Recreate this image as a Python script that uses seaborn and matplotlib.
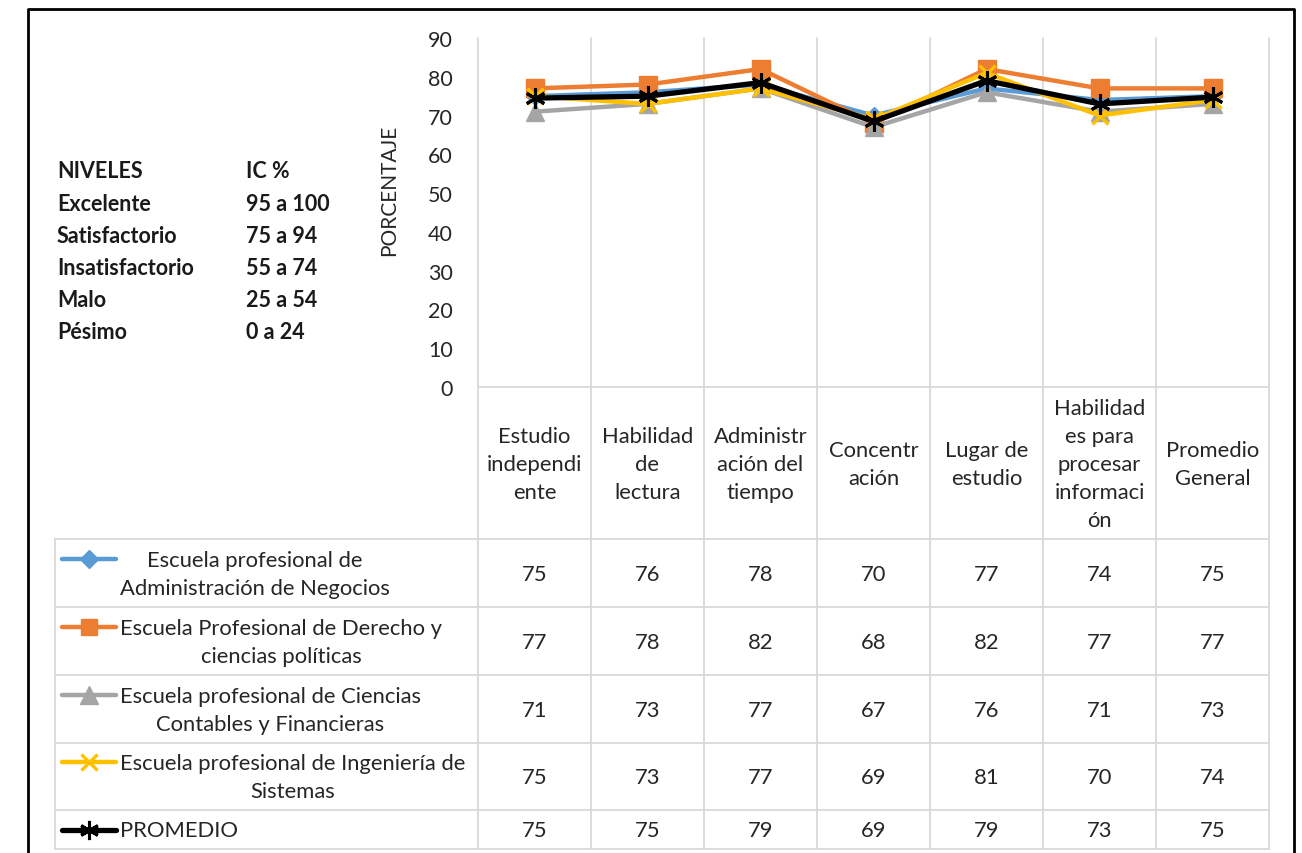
import matplotlib
matplotlib.use("Agg")
import matplotlib.pyplot as plt
import seaborn as sns
import pandas as pd
from matplotlib.lines import Line2D

# categorias del eje x (texto de la cabecera de la tabla)
categorias = ["Estudio\nindependi\nente", "Habilidad\nde\nlectura",
              "Administr\nación del\ntiempo", "Concentr\nación",
              "Lugar de\nestudio", "Habilidad\nes para\nprocesar\ninformaci\nón",
              "Promedio\nGeneral"]

escuelas = ["Escuela profesional de\nAdministración de Negocios",
            "Escuela Profesional de Derecho y\nciencias políticas",
            "Escuela profesional de Ciencias\nContables y Financieras",
            "Escuela profesional de Ingeniería de\nSistemas",
            "PROMEDIO"]

admin     = [75, 76, 78, 70, 77, 74, 75]
derecho   = [77, 78, 82, 68, 82, 77, 77]
contables = [71, 73, 77, 67, 76, 71, 73]
sistemas  = [75, 73, 77, 69, 81, 70, 74]
promedio  = [74.5, 75, 78.5, 68.5, 79, 73, 74.75]   # valores graficados
promedio_tabla = [75, 75, 79, 69, 79, 73, 75]       # valores en la tabla

niveles = ["NIVELES", "Excelente", "Satisfactorio", "Insatisfactorio", "Malo", "Pésimo"]
rangos  = ["IC %", "95 a 100", "75 a 94", "55 a 74", "25 a 54", "0 a 24"]
yticks  = [0, 10, 20, 30, 40, 50, 60, 70, 80, 90]

colores  = ["#5B9BD5", "#ED7D31", "#A5A5A5", "#FFC000", "#000000"]
marcas   = ["D", "s", "^", "x", (6, 2, 0)]
msizes   = [9.5, 12.5, 13, 11.5, 14.5]
mews     = [1, 1, 1, 2.4, 2.2]
lwidths  = [3.2, 3.2, 3.2, 3.2, 3.8]

series = [admin, derecho, contables, sistemas, promedio]
tabla  = [admin, derecho, contables, sistemas, promedio_tabla]

sns.set_style("white")
plt.rcParams["font.family"] = ["Lato", "DejaVu Sans"]

W, H = 1302, 854
fig = plt.figure(figsize=(W / 100, H / 100), dpi=100)

# capa de fondo en pixeles para la tabla y textos
bg = fig.add_axes([0, 0, 1, 1], zorder=0)
bg.set_xlim(0, W)
bg.set_ylim(H, 0)
bg.axis("off")

x0, x1 = 478, 1269
ytop, ybase = 39, 388
colw = (x1 - x0) / len(categorias)
grid = "#D9D9D9"
fs = 15.8
ls = 1.5

ax = fig.add_axes([x0 / W, 1 - ybase / H, (x1 - x0) / W, (ybase - ytop) / H], zorder=2)
ax.patch.set_alpha(0)

xs = list(range(len(categorias)))
for i, vals in enumerate(series):
    df = pd.DataFrame({"x": xs, "y": vals})
    sns.lineplot(data=df, x="x", y="y", ax=ax, color=colores[i], marker=marcas[i],
                 markersize=msizes[i], linewidth=lwidths[i],
                 markeredgecolor=colores[i], markerfacecolor=colores[i],
                 markeredgewidth=mews[i])

ax.set_xlim(-0.5, len(categorias) - 0.5)
ax.set_ylim(0, 90)
ax.set_yticks(yticks)
ax.set_xticks([])
ax.set_xlabel("")
ax.set_ylabel("PORCENTAJE", fontsize=15)
ax.yaxis.set_label_coords(-0.1, 0.565)
ax.tick_params(axis="y", labelsize=15.5, length=0, pad=18)
for s in ax.spines.values():
    s.set_visible(False)

# tabla de datos
filas = [540, 608, 676, 744, 811, 850]
for k in range(len(categorias) + 1):
    xv = x0 + k * colw
    bg.plot([xv, xv], [ytop, filas[-1]], color=grid, lw=1.3)
bg.plot([x0, x1], [ybase, ybase], color=grid, lw=1.3)
for yv in filas:
    bg.plot([55, x1], [yv, yv], color=grid, lw=1.3)
bg.plot([55, 55], [filas[0], filas[-1]], color=grid, lw=1.3)

for k, cat in enumerate(categorias):
    bg.text(x0 + (k + 0.5) * colw, (ybase + filas[0]) / 2 + 1, cat, ha="center",
            va="center", fontsize=fs, linespacing=ls)

for r in range(len(escuelas)):
    yc = (filas[r] + filas[r + 1]) / 2
    nlin = escuelas[r].count("\n") + 1
    yl = yc - (nlin - 1) * 14.5
    bg.add_line(Line2D([62, 89, 116], [yl, yl, yl], color=colores[r], lw=lwidths[r],
                       marker=marcas[r], markersize=msizes[r] * 0.95,
                       markevery=[1], markeredgecolor=colores[r],
                       markerfacecolor=colores[r], markeredgewidth=mews[r]))
    bg.text(120, yc + 1, escuelas[r], ha="left", va="center", multialignment="center",
            fontsize=fs, linespacing=ls)
    for k in range(len(categorias)):
        bg.text(x0 + (k + 0.5) * colw, yc + 1, str(tabla[r][k]), ha="center",
                va="center", fontsize=fs)

# leyenda de niveles
for j in range(len(niveles)):
    yv = 172 + j * 32.2
    bg.text(57, yv, niveles[j], ha="left", va="center", fontsize=15.5,
            fontweight="bold", color="#1A1A1A")
    bg.text(246, yv, rangos[j], ha="left", va="center", fontsize=15.5,
            fontweight="bold", color="#1A1A1A")

# marco exterior
bg.plot([28, 28, 1294, 1294], [H, 10, 10, H], color="black", lw=2)

fig.savefig("out.png", dpi=100)
